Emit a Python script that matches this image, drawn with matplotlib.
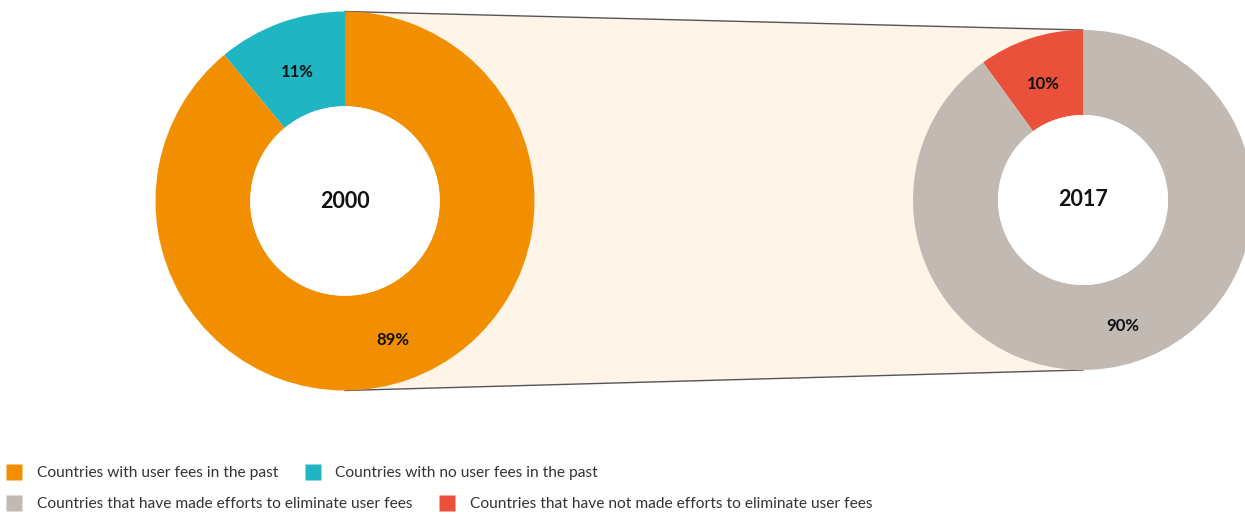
import matplotlib
matplotlib.use('Agg')
import matplotlib.pyplot as plt
from matplotlib.lines import Line2D
from matplotlib.patches import Polygon, Circle

plt.rcParams['font.family'] = ['Lato', 'DejaVu Sans']

# 数据
years = ['2000', '2017']
labels_2000 = ['Countries with no user fees in the past', 'Countries with user fees in the past']
values_2000 = [11, 89]
colors_2000 = ['#1fb5c2', '#f28f00']
labels_2017 = ['Countries that have not made efforts to eliminate user fees',
               'Countries that have made efforts to eliminate user fees']
values_2017 = [10, 90]
colors_2017 = ['#e9513a', '#c2b9b2']

W, H = 1245, 514
fig = plt.figure(figsize=(W / 100, H / 100), dpi=100)
ax = fig.add_axes([0, 0, 1, 1])

# 两个环形图的位置（像素坐标，y向上）
c1, r1 = (345, 313), 189.5
c2, r2 = (1083, 314), 170

# 连接两个圆的米色区域
top1 = (c1[0], c1[1] + r1)
top2 = (c2[0], c2[1] + r2)
bot1 = (c1[0], c1[1] - r1)
bot2 = (c2[0], c2[1] - r2)
ax.add_patch(Polygon([top1, top2, bot2, bot1], closed=True,
                     facecolor='#fef4e8', edgecolor='none', zorder=0))
ax.plot([top1[0], top2[0]], [top1[1], top2[1]], color='#555555', lw=1, zorder=1)
ax.plot([bot1[0], bot2[0]], [bot1[1], bot2[1]], color='#555555', lw=1, zorder=1)

pct = lambda p: f'{p:.0f}%'
for vals, cols, c, r in [(values_2000, colors_2000, c1, r1),
                         (values_2017, colors_2017, c2, r2)]:
    wedges, _, autotexts = ax.pie(vals, colors=cols, startangle=90, counterclock=True,
                                  center=c, radius=r, frame=True, autopct=pct,
                                  pctdistance=0.75,
                                  wedgeprops=dict(width=r * 0.5, linewidth=0))
    for w in wedges:
        w.set_zorder(2)
    # 中间白色圆
    ax.add_patch(Circle(c, r * 0.5, facecolor='white', edgecolor='none', zorder=2))
    for t in autotexts:
        x, y = t.get_position()
        t.set_position((x, y - 5))
        t.set_fontsize(12)
        t.set_fontweight('bold')
        t.set_color('#111111')
        t.set_zorder(3)

ax.text(c1[0], c1[1], years[0], ha='center', va='center', fontsize=15.5,
        fontweight='bold', color='#111111', zorder=3)
ax.text(c2[0], c2[1], years[1], ha='center', va='center', fontsize=15.5,
        fontweight='bold', color='#111111', zorder=3)

ax.set_xlim(0, W)
ax.set_ylim(0, H)
ax.set_aspect('auto')
ax.axis('off')

# 图例
def make_handles(cols):
    return [Line2D([], [], marker='s', linestyle='none', markersize=11,
                   markerfacecolor=col, markeredgecolor='none') for col in cols]

leg_kw = dict(ncol=2, frameon=False, loc='center left', fontsize=11.2,
              handlelength=1.0, handletextpad=0.95, columnspacing=1.75,
              borderpad=0, borderaxespad=0.4, labelcolor='#333333')
row1 = ax.legend(make_handles([colors_2000[1], colors_2000[0]]),
                 [labels_2000[1], labels_2000[0]],
                 bbox_to_anchor=(0.0, (H - 473) / H), **leg_kw)
ax.add_artist(row1)
ax.legend(make_handles([colors_2017[1], colors_2017[0]]),
          [labels_2017[1], labels_2017[0]],
          bbox_to_anchor=(0.0, (H - 504) / H), **leg_kw)

fig.savefig('out.png', dpi=100)
